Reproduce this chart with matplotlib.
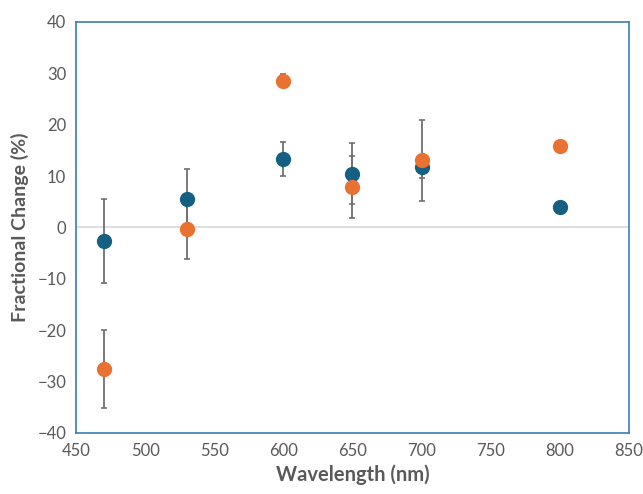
import numpy as np
import matplotlib.pyplot as plt

# wavelength (nm) and fractional change (%) for the two series
wavelength = [470, 530, 600, 650, 700, 800]
change_a = [-2.6, 5.5, 13.4, 10.5, 11.7, 4.0]
err_a = [8.2, 5.8, 3.3, 6.0, 2.1, 0.0]
change_b = [-27.5, -0.2, 28.6, 7.9, 13.1, 15.9]
err_b = [7.6, 6.0, 1.2, 6.0, 7.9, 0.0]

x_ticks = [450, 500, 550, 600, 650, 700, 750, 800, 850]
y_ticks = [-40, -30, -20, -10, 0, 10, 20, 30, 40]

blue = "#156082"
orange = "#E97132"
grey = "#595959"
bar_grey = "#707070"

plt.rcParams['font.family'] = ['Lato', 'DejaVu Sans']

fig = plt.figure(figsize=(6.43, 4.94), dpi=100)
ax = fig.add_axes([0.1182, 0.1235, 0.860, 0.832])

ax.axhline(0, color="#d9d9d9", lw=1.2, zorder=1)

for vals, errs in [(change_a, err_a), (change_b, err_b)]:
    ax.errorbar(wavelength, vals, yerr=errs, fmt='none', ecolor=bar_grey,
                elinewidth=1.3, capsize=2.3, capthick=1.2, zorder=2)
ax.plot(wavelength, change_a, 'o', color=blue, ms=11, mec='none', zorder=3)
ax.plot(wavelength, change_b, 'o', color=orange, ms=11, mec='none', zorder=4)

ax.set_xlim(450, 850)
ax.set_ylim(-40, 40)
ax.set_xticks(x_ticks)
ax.set_yticks(y_ticks)
ax.tick_params(length=0, labelsize=12, labelcolor=grey, pad=7)

for s in ax.spines.values():
    s.set_color("#3a7fb0")
    s.set_linewidth(1.2)

ax.set_xlabel("Wavelength (nm)", fontsize=14.5, fontweight='bold', color=grey, labelpad=4)
ax.set_ylabel("Fractional Change (%)", fontsize=14, fontweight='bold', color=grey, labelpad=6)

fig.savefig("out.png", dpi=100)
